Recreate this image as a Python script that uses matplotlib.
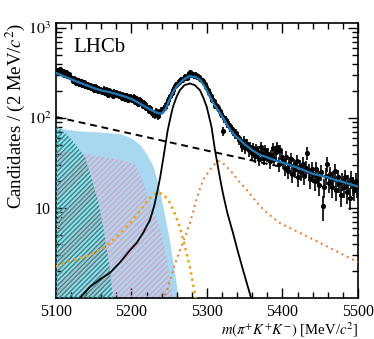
import numpy as np
import matplotlib
matplotlib.use('Agg')
import matplotlib.pyplot as plt
from matplotlib.ticker import MultipleLocator, LogLocator, FixedLocator, FixedFormatter

plt.rcParams['font.family'] = ['Liberation Serif', 'DejaVu Serif']
plt.rcParams['mathtext.fontset'] = 'stix'
plt.rcParams['hatch.linewidth'] = 1.0

# Bin centres (2 MeV bins) and observed counts
mass_bins = np.arange(5101, 5500, 2)
counts = [
    345, 330, 352, 318, 335, 301, 322, 296, 310, 284,
    280, 259, 275, 248, 266, 240, 257, 231, 250, 228,
    238, 219, 233, 214, 226, 205, 222, 199, 213, 208,
    196, 212, 189, 205, 183, 201, 194, 178, 197, 181,
    190, 175, 186, 168, 182, 165, 179, 161, 171, 172,
    158, 170, 151, 163, 145, 158, 151, 138, 146, 130,
    134, 121, 129, 115, 112, 108, 119, 105, 116, 121,
    122, 129, 134, 148, 160, 174, 190, 205, 228, 236,
    248, 255, 272, 262, 281, 290, 276, 305, 322, 298,
    312, 296, 305, 284, 290, 271, 264, 257, 238, 220,
    205, 190, 178, 160, 155, 138, 137, 128, 121, 112,
    72, 99, 95, 88, 84, 79, 75, 71, 66, 68,
    62, 58, 55, 49, 56, 47, 52, 44, 48, 41,
    46, 38, 45, 42, 35, 48, 40, 36, 44, 39,
    40, 33, 38, 46, 35, 42, 48, 31, 44, 36,
    33, 28, 37, 26, 31, 35, 24, 30, 27, 33,
    22, 29, 25, 31, 23, 28, 41, 26, 21, 27,
    24, 20, 27, 22, 18, 25, 10.5, 17, 23, 31,
    19, 24, 17, 21, 26, 16, 22, 19, 14, 20,
    17, 22, 15, 19, 13, 21, 18, 16, 20, 17,
]
counts = np.array(counts, dtype=float)
errors = np.sqrt(counts)

# Total fit
total_m = [5100, 5110, 5120, 5130, 5140, 5150, 5160, 5170, 5180, 5190, 5200,
           5210, 5220, 5230, 5236, 5240, 5245, 5250, 5255, 5260, 5265, 5270,
           5277, 5285, 5291, 5297, 5304, 5310, 5317, 5324, 5331, 5337, 5344,
           5350, 5360, 5370, 5380, 5390, 5400, 5410, 5420, 5430, 5440, 5450,
           5460, 5470, 5480, 5490, 5500]
total_v = [318, 293, 270, 250, 233, 216, 203, 195, 185, 175, 163,
           147, 131, 118, 113, 112, 125, 158, 195, 225, 250, 272,
           293, 285, 265, 225, 172, 140, 114, 92, 73.5, 64, 57,
           51, 44, 39, 36.5, 34, 32, 30, 28, 26, 24, 23,
           22, 20.5, 19.5, 18.4, 17.3]

# Signal
sig_m = [5110, 5131.8, 5145, 5160, 5171.5, 5185, 5198, 5207, 5216, 5224.5, 5230,
         5234, 5238, 5241.7, 5244, 5248, 5252, 5255, 5260, 5264, 5270, 5277.5,
         5284, 5290.7, 5295, 5299.6, 5306, 5310.6, 5313, 5317, 5321, 5327,
         5334.4, 5340, 5347.7, 5358, 5365]
sig_v = [0.8, 1.0, 1.33, 1.65, 1.9, 2.5, 3.4, 4.1, 5.4, 7.4, 10.5,
         15, 22, 34, 45, 73.5, 105, 134, 175, 204, 232, 243,
         232, 204, 170, 134, 80, 44, 34, 22, 14.7, 8.8,
         5.3, 3.5, 2.05, 1.03, 0.6]

# Combinatorial background
comb_m = [5100, 5200, 5300, 5400, 5500]
comb_v = [103, 67, 43.5, 28.5, 18.5]

# Partially reconstructed (filled)
prec_m = [5100, 5130, 5160, 5185, 5200, 5212, 5220, 5228, 5235, 5242, 5250, 5256, 5262, 5266]
prec_v = [78, 72, 70, 67, 60, 50, 40, 30, 19, 10, 4.5, 2.2, 1.0, 0.5]

# Hatched backgrounds
teal_m = [5100, 5118.5, 5138.4, 5147.7, 5155.6, 5162, 5167.5, 5171.5, 5175.5, 5178]
teal_v = [84, 61, 37, 20.5, 12.3, 6.5, 3.4, 2.05, 1.0, 0.6]
pink_m = [5100, 5136, 5170, 5195, 5205, 5213, 5221, 5230, 5238, 5247, 5254, 5258]
pink_v = [44, 40, 36, 33, 30, 22, 14.5, 9, 6, 2.6, 1.1, 0.6]

# Dotted peaking backgrounds
yel_m = [5100, 5120, 5145, 5160, 5171.5, 5185, 5198, 5210, 5220, 5228, 5235,
         5243, 5251, 5258, 5264, 5271, 5277.5, 5284, 5288]
yel_v = [2.25, 2.6, 3.0, 3.5, 4.1, 5.2, 6.8, 9.0, 11.7, 13.8, 15,
         14, 11.4, 8.5, 6.1, 3.7, 2.2, 1.1, 0.7]
org_m = [5238, 5241.7, 5247, 5257.6, 5268, 5277.5, 5286.8, 5294.7, 5306.6, 5314.6,
         5322, 5330.5, 5342, 5353, 5366, 5379.5, 5396.7, 5423, 5449.7, 5476, 5500]
org_v = [0.7, 1.0, 1.2, 2.4, 4.1, 6.8, 13, 20.5, 28.7, 33.5,
         31, 26.5, 20, 15.8, 11.5, 8.8, 6.8, 5.3, 4.1, 3.16, 2.5]

fig = plt.figure(figsize=(3.74, 3.39), dpi=100)
ax = fig.add_axes([0.1497, 0.121, 0.8075, 0.811])
ymin, ymax = 1.0, 1140

ax.fill_between(prec_m, prec_v, 0.1, color='#a8d8f0', lw=0, zorder=1)
ax.fill_between(pink_m, pink_v, 0.1, facecolor='none', edgecolor='#e0a0c0',
                hatch='//////', lw=0, zorder=2)
ax.fill_between(teal_m, teal_v, 0.1, facecolor='none', edgecolor='#129a8a',
                hatch='///////', lw=0, zorder=3)
ax.plot(comb_m, comb_v, color='black', ls=(0, (3.5, 2.5)), lw=1.4, zorder=4)
ax.plot(yel_m, yel_v, color='#f0a30a', ls=(0, (1, 1.5)), lw=1.8, zorder=4)
ax.plot(org_m, org_v, color='#e47a2e', ls=(0, (1, 2)), lw=1.4, zorder=4)
ax.plot(sig_m, sig_v, color='black', lw=1.3, zorder=5)
ax.errorbar(mass_bins, counts, yerr=errors, fmt='o', color='black', ms=2.7,
            elinewidth=1.2, capsize=0, zorder=6)
ax.plot(total_m, total_v, color='#1f77b4', lw=1.7, zorder=7)

ax.set_xlim(5100, 5500)
ax.set_yscale('log')
ax.set_ylim(ymin, ymax)

ax.xaxis.set_major_locator(MultipleLocator(100))
ax.xaxis.set_minor_locator(MultipleLocator(20))
ax.yaxis.set_major_locator(FixedLocator([10, 100, 1000]))
ax.yaxis.set_major_formatter(FixedFormatter(['10', '$10^2$', '$10^3$']))
ax.yaxis.set_minor_locator(LogLocator(base=10, subs=np.arange(2, 10)))
ax.yaxis.set_minor_formatter(plt.NullFormatter())
ax.tick_params(which='both', direction='in', top=True, right=True, labelsize=11.5)
ax.tick_params(axis='x', which='major', pad=4)
ax.tick_params(which='major', length=7, width=1)
ax.tick_params(which='minor', length=4, width=1)
for s in ax.spines.values():
    s.set_linewidth(1.2)

ax.set_ylabel('Candidates / (2 MeV/$c^2$)', loc='top', fontsize=13.5)
ax.yaxis.set_label_coords(-0.135, 1.0)
ax.set_xlabel(r'$m(\pi^{+}K^{+}K^{-})$ [MeV/$c^2$]', loc='right', fontsize=10.6)
ax.xaxis.set_label_coords(1.0, -0.113)
ax.xaxis.label.set_va('center')
ax.yaxis.label.set_va('center')
ax.text(0.056, 0.91, 'LHCb', transform=ax.transAxes, fontsize=15, va='center')

fig.savefig('out.png', dpi=100)
